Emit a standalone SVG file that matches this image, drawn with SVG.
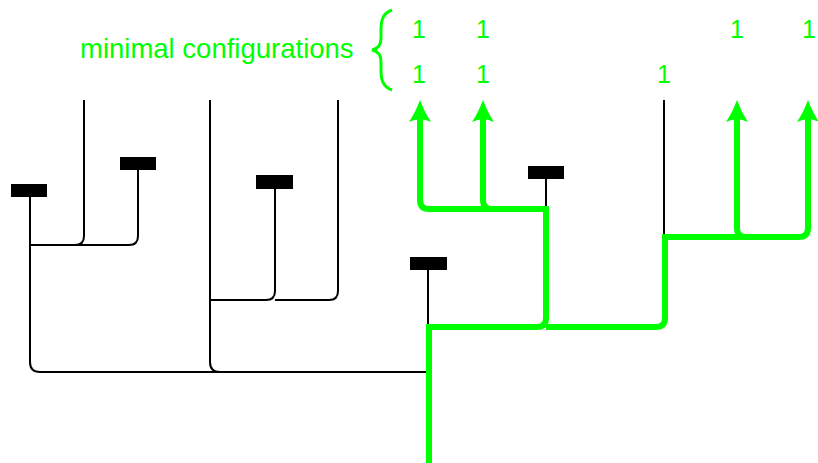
<svg xmlns="http://www.w3.org/2000/svg" width="818" height="463" viewBox="0 0 818 463">
<style>
.blk{fill:none;stroke:#000;stroke-width:2;stroke-linejoin:round}
.grn{fill:none;stroke:#00ff00;stroke-width:6;stroke-linejoin:miter}
.box{fill:#000}
.lab{font-family:"Liberation Sans",Arial,sans-serif;fill:#00ff00}
.one{font-size:25px;text-anchor:middle}
.ah{fill:#00ff00}
</style>
<defs>
<path id="arr" d="M0,0 C3,8 6.5,15 11,22 Q0,16.5 -11,22 C-6.5,15 -3,8 0,0Z"/>
</defs>
<rect width="818" height="463" fill="#fff"/>
<g id="connectors">
<path class="blk" d="M138,170 V236 Q138,245 129,245 H30"/>
<path class="blk" d="M84,100 V236 Q84,245 75,245"/>
<path class="blk" d="M30,197 V362 Q30,372 40,372 H428"/>
<path class="blk" d="M210,100 V362 Q210,372 220,372"/>
<path class="blk" d="M275,189 V291 Q275,300 266,300 H210"/>
<path class="blk" d="M338,100 V291 Q338,300 329,300 H275"/>
<path class="blk" d="M428,270 V327"/>
<path class="blk" d="M546,179 V209"/>
<path class="blk" d="M664,100 V237"/>
<path class="grn" d="M429,463 V327 H537 Q546,327 546,318 V209 H429 Q420,209 420,200 V116"/>
<path class="grn" d="M483,116 V200 Q483,209 492,209"/>
<path class="grn" d="M546,327 H656 Q665,327 665,318 V237 H799 Q808,237 808,228 V116"/>
<path class="grn" d="M737,116 V228 Q737,237 746,237"/>
<use href="#arr" class="ah" x="420" y="100"/>
<use href="#arr" class="ah" x="483" y="100"/>
<use href="#arr" class="ah" x="737" y="100"/>
<use href="#arr" class="ah" x="808" y="100"/>
</g>
<g id="box1"><rect class="box" x="11" y="184" width="36" height="13"/></g>
<g id="box2"><rect class="box" x="120" y="157" width="36" height="13"/></g>
<g id="box3"><rect class="box" x="256" y="175" width="37" height="14"/></g>
<g id="box4"><rect class="box" x="410" y="257" width="37" height="13"/></g>
<g id="box5"><rect class="box" x="528" y="166" width="36" height="13"/></g>
<g id="label">
<text class="lab" x="80" y="58" font-size="27.5">minimal configurations</text>
<path d="M392,10 C383,13 381,20 381,30 L381,38 C381,45 378,49 372,50 C378,51 381,55 381,62 L381,70 C381,80 383,87 392,90" fill="none" stroke="#00ff00" stroke-width="3"/>
</g>
<g id="configs">
<text class="lab one" x="419" y="38">1</text>
<text class="lab one" x="483" y="38">1</text>
<text class="lab one" x="737" y="38">1</text>
<text class="lab one" x="809" y="38">1</text>
<text class="lab one" x="419" y="83">1</text>
<text class="lab one" x="483" y="83">1</text>
<text class="lab one" x="664" y="83">1</text>
</g>
</svg>
